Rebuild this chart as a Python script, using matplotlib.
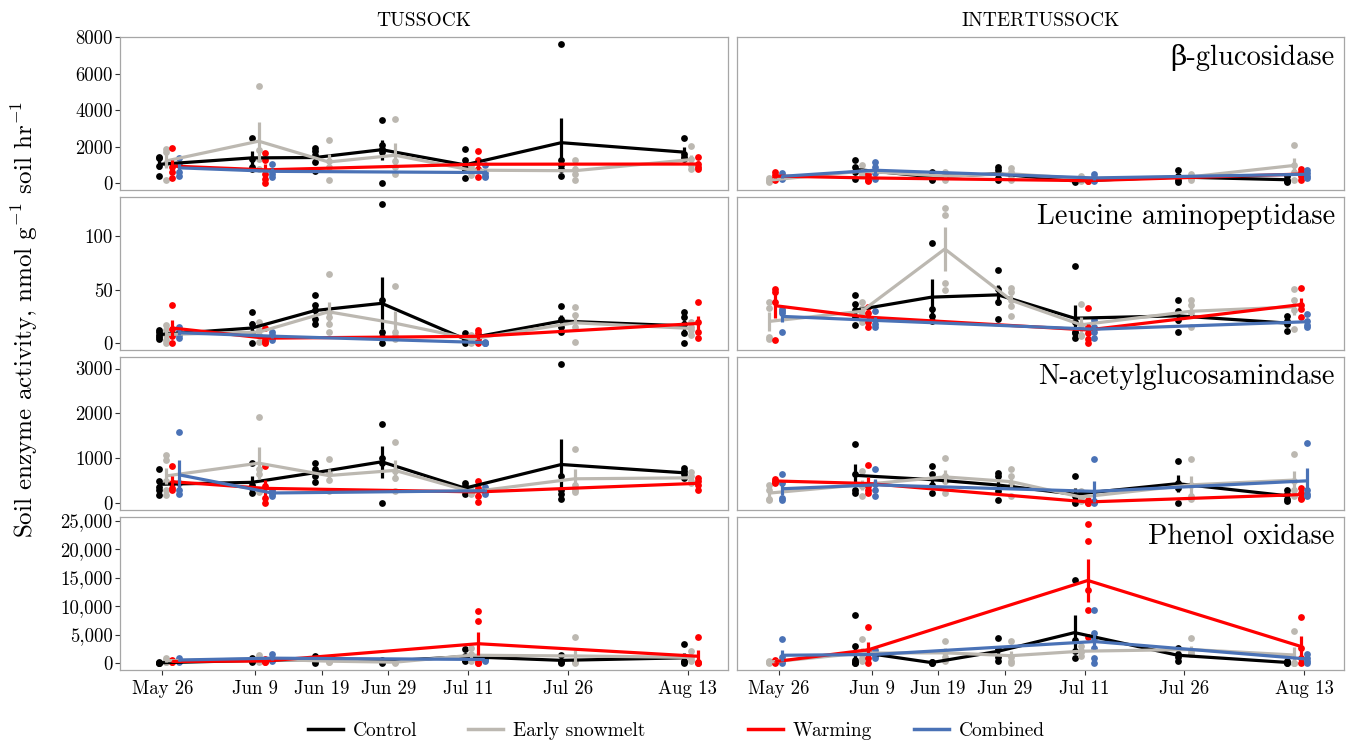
import numpy as np
import matplotlib
matplotlib.use("Agg")
import matplotlib.pyplot as plt
from matplotlib.lines import Line2D

plt.rcParams["font.family"] = ["cmr10", "DejaVu Serif"]
plt.rcParams["mathtext.fontset"] = "cm"
plt.rcParams["axes.formatter.use_mathtext"] = True

# sampling dates (days after May 26)
date_labels = ["May 26", "Jun 9", "Jun 19", "Jun 29", "Jul 11", "Jul 26", "Aug 13"]
days = [0, 14, 24, 34, 46, 61, 79]
treatments = ["Control", "Early snowmelt", "Warming", "Combined"]
colors = ["#000000", "#bcb8b1", "#ff0000", "#4a72b6"]

# enzyme activities, one list of plot replicates per date (None = not sampled)
bg_tussock = {
    "Control": [[1420, 1400, 920, 390], [2500, 1350, 900, 800], [1940, 1760, 1530, 1160, 650],
                [3470, 2090, 1900, 1720, 0], [1870, 1260, 890, 700, 300], [7630, 1290, 1000, 800, 390],
                [2460, 1600, 1450, 1300]],
    "Early snowmelt": [[1900, 1700, 1100, 150], [5320, 1800, 1300, 800], [2370, 1200, 900, 185],
                       [3530, 1200, 900, 500], [950, 800, 650, 450], [1260, 800, 520, 150],
                       [2050, 1350, 980, 800]],
    "Warming": [[1950, 900, 600, 300], [1630, 1260, 500, 240, 30], None, None,
                [1770, 1260, 800, 330], None, [1440, 1070, 890, 800]],
    "Combined": [[1390, 980, 610, 390], [1070, 680, 520, 330], None, None,
                 [1000, 560, 420, 350], None, None],
}
bg_inter = {
    "Control": [None, [1290, 890, 610, 240], [600, 400, 250, 150], [900, 700, 300, 150],
                [200, 150, 100, 50], [700, 400, 200, 50], [400, 200, 100, 50]],
    "Early snowmelt": [[300, 200, 100, 50], [980, 610, 600, 450], [600, 450, 300, 200],
                       [850, 600, 400, 200], [400, 300, 200, 100], [500, 400, 300, 200],
                       [2090, 1000, 600, 200]],
    "Warming": [[600, 450, 300, 200], [500, 350, 200, 100], None, None,
                [200, 150, 100, 100], None, [800, 600, 400, 200]],
    "Combined": [[550, 400, 300, 250], [1160, 880, 560, 240], None, None,
                 [500, 350, 200, 100], None, [700, 550, 400, 300]],
}

lap_tussock = {
    "Control": [[12, 10, 8, 6, 4], [29, 18, 9, 0.5], [45, 35.5, 31, 23, 18], [130, 40, 10, 6, 0],
                [9, 4, 2, 0.5], [34.5, 23, 15, 10], [29, 24.5, 18, 9, 0]],
    "Early snowmelt": [[17, 12, 8, 3, 0.5], [20, 12, 8, 1], [65, 29, 24.5, 18, 10], [53.5, 10, 7, 4],
                       [8, 5, 2, 0.5], [34, 26, 15, 1], [20, 15, 12, 8]],
    "Warming": [[35.5, 13.5, 7, 0.5], [14, 3, 1, 0.5], None, None, [12, 9, 4, 0.5], None,
                [38.5, 20, 10, 5]],
    "Combined": [[15, 11, 8, 5], [10, 8, 5, 3], None, None, [1, 0.5, 0.3, 0.2], None, None],
}
lap_inter = {
    "Control": [None, [45, 37, 31, 24.5, 16.5], [94, 32, 25, 21], [68, 51, 38.5, 23],
                [72.5, 20, 10, 9, 5], [40, 30, 22, 10], [25, 21, 18, 11]],
    "Early snowmelt": [[38, 33, 6, 4], [38, 33, 28, 20], [126, 120, 56, 50], [52, 48, 40, 35, 25],
                       [37, 16.5, 8, 7], [40, 35.5, 28.6, 15], [51, 40, 31, 13.5]],
    "Warming": [[51, 48, 38.5, 2.5], [34, 28, 20, 15], None, None, [33, 15, 9, 4, 0.5], None,
                [52, 36, 32, 24]],
    "Combined": [[32, 30, 28, 10], [30, 22, 18, 15], None, None, [22, 15, 10, 5], None,
                 [27, 21, 17, 15]],
}

nag_tussock = {
    "Control": [[750, 490, 360, 300, 190], [885, 400, 340, 225], [900, 750, 600, 465],
                [1770, 1010, 900, 0], [450, 380, 300, 200], [3100, 600, 300, 200, 100],
                [790, 710, 640, 560]],
    "Early snowmelt": [[1065, 960, 500, 300, 190], [1930, 750, 640, 240], [975, 675, 525, 280],
                       [1365, 710, 560, 280], [300, 260, 240, 200], [1215, 400, 300, 250],
                       [700, 600, 500, 450]],
    "Warming": [[825, 450, 330, 300], [825, 375, 112, 0], None, None, [490, 340, 150, 15], None,
                [560, 490, 410, 300]],
    "Combined": [[1575, 450, 300, 200], [300, 250, 200, 150], None, None, [350, 300, 250, 200],
                 None, None],
}
nag_inter = {
    "Control": [None, [1310, 640, 300, 225], [825, 640, 400, 225], [675, 600, 260, 75],
                [600, 150, 40, 0], [940, 450, 340, 0], [300, 200, 100, 50]],
    "Early snowmelt": [[410, 300, 100, 75], [710, 400, 380, 150], [1010, 600, 500, 225],
                       [750, 600, 410, 150], [260, 150, 80, 40], [975, 400, 150, 100],
                       [1100, 500, 300, 150]],
    "Warming": [[540, 500, 480, 450], [840, 380, 300, 225], None, None, [60, 30, 10, 0], None,
                [340, 225, 112, 80]],
    "Combined": [[640, 450, 112, 75], [750, 420, 300, 150], None, None, [975, 50, 20, 0], None,
                 [1335, 300, 200, 150]],
}

po_tussock = {
    "Control": [[100, 50, 20, 0], [800, 600, 300, 100], [1300, 900, 300, 0], [600, 400, 200, 0],
                [2500, 1200, 500, 300], [1480, 300, 100, 0], [3260, 300, 100, 0]],
    "Early snowmelt": [[800, 500, 200, 100], [1480, 800, 400, 200], [600, 400, 200, 100],
                       [300, 200, 100, 0], [2670, 1500, 900, 400], [4560, 300, 100, 0],
                       [2070, 1000, 600, 300]],
    "Warming": [[500, 300, 200, 100], [700, 400, 200, 100], None, None,
                [9060, 7290, 600, 0, 0], None, [4560, 200, 0, 0]],
    "Combined": [[900, 600, 400, 200], [1600, 900, 600, 300], None, None,
                 [1000, 700, 500, 300], None, None],
}
po_inter = {
    "Control": [None, [8470, 2960, 500, 200, 0, 0], [200, 100, 0, 0], [4440, 2500, 1000, 300],
                [14510, 3970, 2070, 800], [2670, 1500, 1000, 300], [300, 100, 0, 0]],
    "Early snowmelt": [[300, 200, 100, 0], [4270, 1500, 890, 300], [3850, 2000, 1000, 300],
                       [3850, 1000, 300, 0], [3000, 2100, 2000, 1200], [4320, 2070, 1600, 1500],
                       [5630, 0, 0, 0]],
    "Warming": [[600, 300, 100, 0], [6340, 2070, 890, 0], None, None,
                [24400, 21400, 12740, 9360, 4560], None, [8120, 2670, 890, 0]],
    "Combined": [[4150, 1000, 300, 0], [2200, 1800, 1200, 800], None, None,
                 [9300, 5330, 4440, 2670, 890, 0], None, [1600, 900, 300, 0]],
}

enzymes = ["β-glucosidase", "Leucine aminopeptidase", "N-acetylglucosamindase", "Phenol oxidase"]
habitats = ["TUSSOCK", "INTERTUSSOCK"]
panels = [[bg_tussock, bg_inter], [lap_tussock, lap_inter],
          [nag_tussock, nag_inter], [po_tussock, po_inter]]
yticks = [[0, 2000, 4000, 6000, 8000], [0, 50, 100], [0, 1000, 2000, 3000],
          [0, 5000, 10000, 15000, 20000, 25000]]

# dodge: slot offsets (days) when 3-4 treatments share a date, date shift per habitat
slots = [-1.5, -0.5, 0.5, 1.5]
shift = [{0: 1, 14: 1, 46: 1, 79: 1}, {0: -1, 14: -1, 46: 0, 79: -1}]

fig, axes = plt.subplots(4, 2, figsize=(13.52, 7.44), dpi=100, sharex=True, sharey="row")
fig.subplots_adjust(left=0.089, right=0.994, top=0.950, bottom=0.0995, wspace=0.015, hspace=0.046)

for r in range(4):
    for c in range(2):
        ax = axes[r, c]
        data = panels[r][c]
        xpos = {t: {} for t in treatments}
        for j, d in enumerate(days):
            present = [t for t in treatments if data[t][j] is not None]
            for t in present:
                if len(present) > 2:
                    off = slots[treatments.index(t)] + shift[c].get(d, 0)
                else:
                    off = -1 if present.index(t) == 0 else 1
                xpos[t][j] = d + off
        for k, t in enumerate(treatments):
            xs, ms, ses = [], [], []
            for j in range(len(days)):
                vals = data[t][j]
                if vals is None:
                    continue
                x = xpos[t][j]
                v = np.array(vals, dtype=float)
                ax.scatter(np.full(len(v), x), v, s=24, color=colors[k], zorder=2 + k * 0.1,
                           linewidths=0)
                xs.append(x)
                ms.append(v.mean())
                ses.append(v.std(ddof=1) / np.sqrt(len(v)))
            xs, ms, ses = np.array(xs), np.array(ms), np.array(ses)
            ax.plot(xs, ms, color=colors[k], lw=2.3, zorder=3 + k * 0.1, solid_capstyle="butt")
            ax.vlines(xs, ms - ses, ms + ses, color=colors[k], lw=2.3, zorder=3 + k * 0.1)

        ax.set_xlim(-6.3, 85)
        ax.set_yticks(yticks[r])
        if r == 3:
            ax.set_yticklabels([f"{v:,}" for v in yticks[r]])
        else:
            ax.set_yticklabels([str(v) for v in yticks[r]])
        ax.set_xticks(days)
        ax.set_xticklabels(date_labels)
        for sp in ax.spines.values():
            sp.set_color("#a6a6a6")
            sp.set_linewidth(0.9)
        ax.tick_params(axis="both", colors="#333333", labelcolor="black", length=3.5,
                       width=0.8, labelsize=13.5)
        ax.tick_params(axis="y", pad=2)
        if c == 1:
            ax.tick_params(axis="y", left=False)
            ax.text(0.985, 0.955, enzymes[r], transform=ax.transAxes, ha="right", va="top",
                    fontsize=20.5, family=["cmr10", "DejaVu Serif"])
        if r == 0:
            ax.set_title(habitats[c], fontsize=14, pad=8)
        if r < 3:
            ax.tick_params(axis="x", bottom=False)

fig.text(0.018, 0.57, "Soil enzyme activity, nmol g$^{-1}$ soil hr$^{-1}$", rotation=90,
         ha="center", va="center", fontsize=18)

# legend entries placed one by one along the bottom
legend_x = [308, 468, 748, 914]
for k, t in enumerate(treatments):
    h = Line2D([0], [0], color=colors[k], lw=2.5)
    fig.legend([h], [t], loc="center left", bbox_to_anchor=(legend_x[k] / 1352, 0.0175),
               frameon=False, fontsize=14, handlelength=1.8, handletextpad=0.5,
               borderpad=0, borderaxespad=0)

fig.savefig("out.png", dpi=100)
